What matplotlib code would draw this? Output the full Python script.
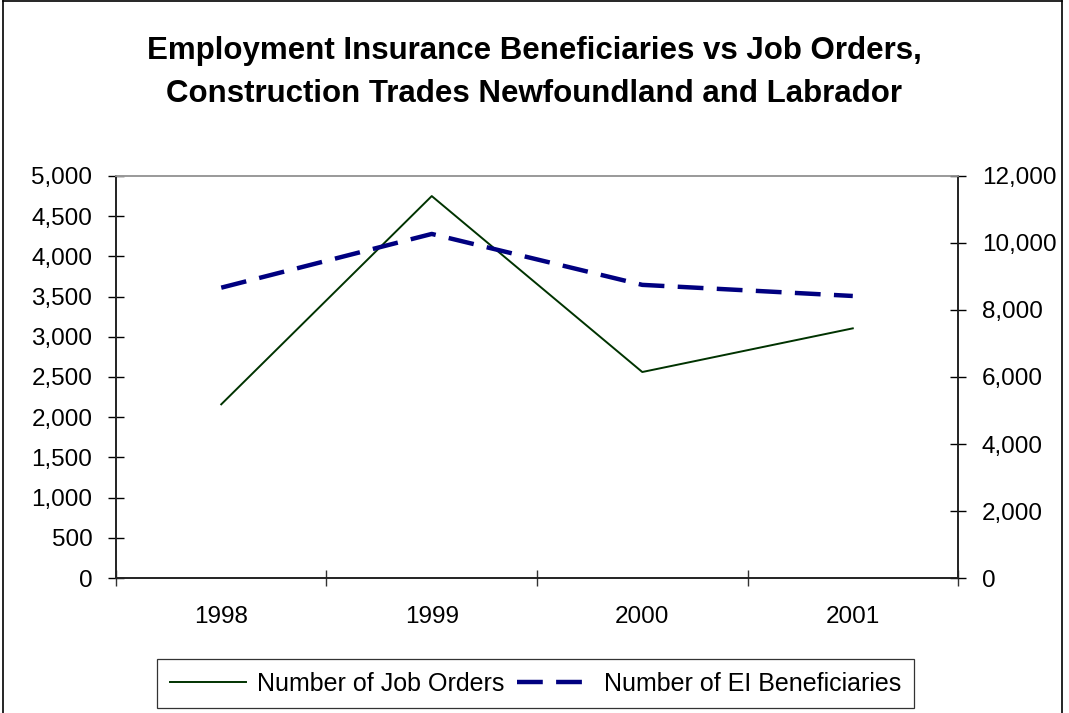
import numpy as np
import matplotlib
matplotlib.use('Agg')
import matplotlib.pyplot as plt
from matplotlib.ticker import FuncFormatter, MultipleLocator, FixedLocator

plt.rcParams['font.family'] = ['Liberation Sans', 'DejaVu Sans']

# ── Data ──────────────────────────────────────────────────────────────────────
years = ['1998', '1999', '2000', '2001']
job_orders = [2160, 4750, 2562, 3105]
ei_beneficiaries = [8666, 10270, 8750, 8418]

title = ('Employment Insurance Beneficiaries vs Job Orders,\n'
         'Construction Trades Newfoundland and Labrador')

# ── Figure ────────────────────────────────────────────────────────────────────
fig = plt.figure(figsize=(10.69, 7.13), dpi=100)
ax = fig.add_axes([0.1085, 0.1893, 0.7877, 0.5639])
ax2 = ax.twinx()

x = np.arange(len(years))
l1, = ax.plot(x, job_orders, color='#003300', lw=1.4, label='Number of Job Orders')
l2, = ax2.plot(x, ei_beneficiaries, color='#000080', lw=3.2,
               dashes=(5.8, 3.0), label='Number of EI Beneficiaries')

ax.set_xlim(-0.5, len(years) - 0.5)
ax.set_ylim(0, 5000)
ax2.set_ylim(0, 12000)
ax.yaxis.set_major_locator(MultipleLocator(500))
ax2.yaxis.set_major_locator(MultipleLocator(2000))
fmt = FuncFormatter(lambda v, p: f'{int(v):,}')
ax.yaxis.set_major_formatter(fmt)
ax2.yaxis.set_major_formatter(fmt)

ax.set_xticks(x)
ax.set_xticklabels(years)
ax.xaxis.set_minor_locator(FixedLocator(np.arange(-0.5, len(years), 1.0)))
ax.tick_params(axis='x', which='major', length=0, pad=20, labelsize=17.5)
ax.tick_params(axis='x', which='minor', direction='inout', length=12, width=1, color='#333333')
ax.tick_params(axis='y', direction='inout', length=12, width=1, labelsize=17.5, pad=11)
ax2.tick_params(axis='y', direction='inout', length=12, width=1, labelsize=17.5, pad=11)

for a in (ax, ax2):
    a.spines['top'].set_color('#999999')
    a.spines['top'].set_linewidth(1.2)
    for s in ('left', 'right', 'bottom'):
        a.spines[s].set_color('#222222')
        a.spines[s].set_linewidth(1.2)

fig.text(0.5, 0.898, title, ha='center', va='center', fontsize=22.5,
         fontweight='bold', linespacing=1.55)

leg = fig.legend(handles=[l1, l2], loc='center', bbox_to_anchor=(0.501, 0.0407),
                 ncol=2, fontsize=18, frameon=True, fancybox=False,
                 edgecolor='black', handlelength=3.05, columnspacing=0.5,
                 handletextpad=0.45, borderpad=0.5, borderaxespad=0)
leg.get_frame().set_linewidth(0.9)

# outer chart border (left, top, right)
fig.add_artist(plt.Line2D([0.003, 0.003], [0, 0.999], color='black', lw=1.2,
                          transform=fig.transFigure))
fig.add_artist(plt.Line2D([0.003, 0.9935], [0.999, 0.999], color='black', lw=1.2,
                          transform=fig.transFigure))
fig.add_artist(plt.Line2D([0.9935, 0.9935], [0, 0.999], color='black', lw=1.2,
                          transform=fig.transFigure))

plt.savefig('out.png', dpi=100)
plt.close()
